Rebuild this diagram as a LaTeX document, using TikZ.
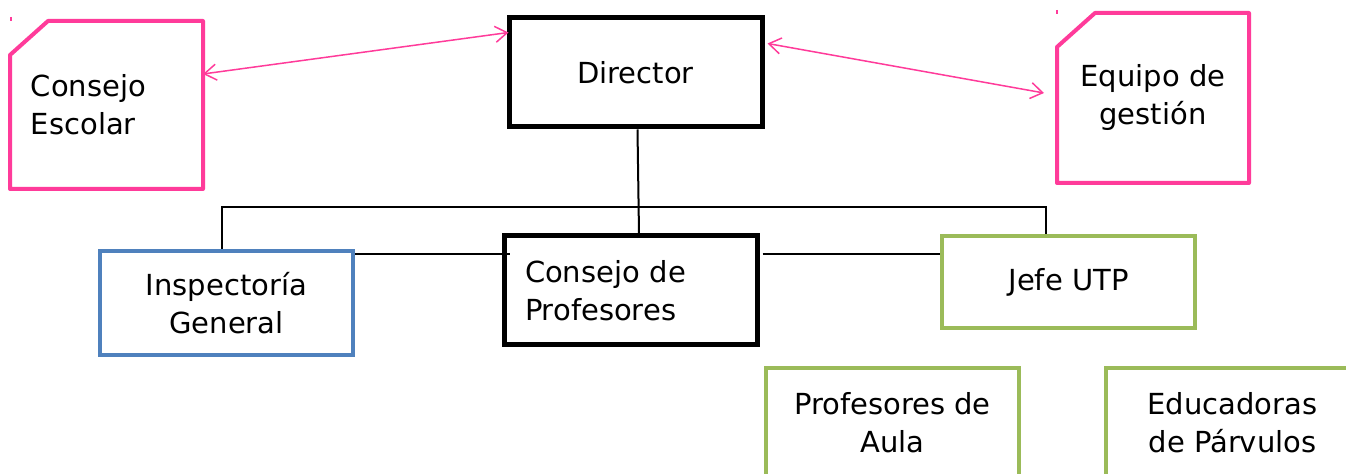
\documentclass[tikz,border=0pt]{standalone}
\usepackage{fontspec}
\setmainfont{DejaVu Sans}
\usetikzlibrary{arrows.meta}

\definecolor{rosa}{RGB}{255,59,154}
\definecolor{azul}{RGB}{79,129,189}
\definecolor{verde}{RGB}{155,187,89}

\begin{document}
\begin{tikzpicture}[x=0.5pt,y=-0.5pt,
    box/.style={draw,rectangle,line width=2pt,minimum width=126.5pt,
      font=\fontsize{14.5}{19}\selectfont,align=center},
    jefe/.style={box,line width=2.5pt,minimum height=54.5pt},
    nota/.style={box,draw=none,outer sep=0pt},
    borde/.style={draw=rosa,line width=2pt,line join=round},
    link/.style={line width=1pt},
    flecha/.style={draw=rosa,line width=0.75pt,
      {Straight Barb[length=6pt,width=8pt]}-{Straight Barb[length=6pt,width=8pt]}}]
    \clip (0,0) rectangle (1346,474);
    \node[jefe] (dir) at (635.5,72.5) {Director};
    \node[nota,minimum width=96.5pt,minimum height=84pt,text width=75.5pt,
      inner xsep=10.5pt,align=left] (ce) at (106.5,105) {Consejo\\Escolar};
    \node[nota,minimum width=96pt,minimum height=85pt] (eg) at (1153,98) {Equipo de\\gestión};
    \node[box,draw=azul,minimum height=52pt] (ig) at (226.5,303) {Inspectoría\\General};
    \node[jefe,text width=105.5pt,inner xsep=10.5pt,align=left] (cp) at (630.5,290.5) {Consejo de\\Profesores};
    \node[box,draw=verde,minimum height=46pt] (utp) at (1068.5,282) {Jefe UTP};
    \node[box,draw=verde,minimum height=55pt] (pa) at (892.5,423) {Profesores de\\Aula};
    \node[box,draw=verde,minimum height=55pt] (ep) at (1232.5,423) {Educadoras\\de Párvulos};
    \coordinate (barra) at (639,207);
    % hojas con esquina cortada
    \foreach \n in {ce,eg}
      \draw[borde] ([yshift=-17pt]\n.north west) -- ([xshift=19pt]\n.north west)
        -- (\n.north east) -- (\n.south east) -- (\n.south west) -- cycle;
    % lineas de mando
    \draw[link] ([xshift=1pt]dir.south) -- ([xshift=4.25pt]cp.north);
    \draw[link] ([xshift=-2.25pt]ig.north) |- (barra) -| ([xshift=-11.25pt]utp.north);
    \draw[link] ([yshift=-2.5pt]ig.north east) -- ([xshift=4pt,yshift=-10.25pt]cp.north west);
    \draw[link] ([xshift=1.5pt,yshift=-10.25pt]cp.north east) -- ([yshift=-10pt]utp.north west);
    % asesoria
    \draw[flecha] ([yshift=15.5pt]ce.east) -- ([xshift=1pt,yshift=-8.5pt]dir.north west);
    \draw[flecha] ([xshift=1.5pt,yshift=-14pt]dir.north east) -- ([xshift=-6.5pt,yshift=2.5pt]eg.west);
    \draw[rosa,line width=0.6pt] (11,17) -- (11,21);
    \draw[rosa,line width=0.6pt] (1057,10) -- (1057,14);
\end{tikzpicture}
\end{document}
